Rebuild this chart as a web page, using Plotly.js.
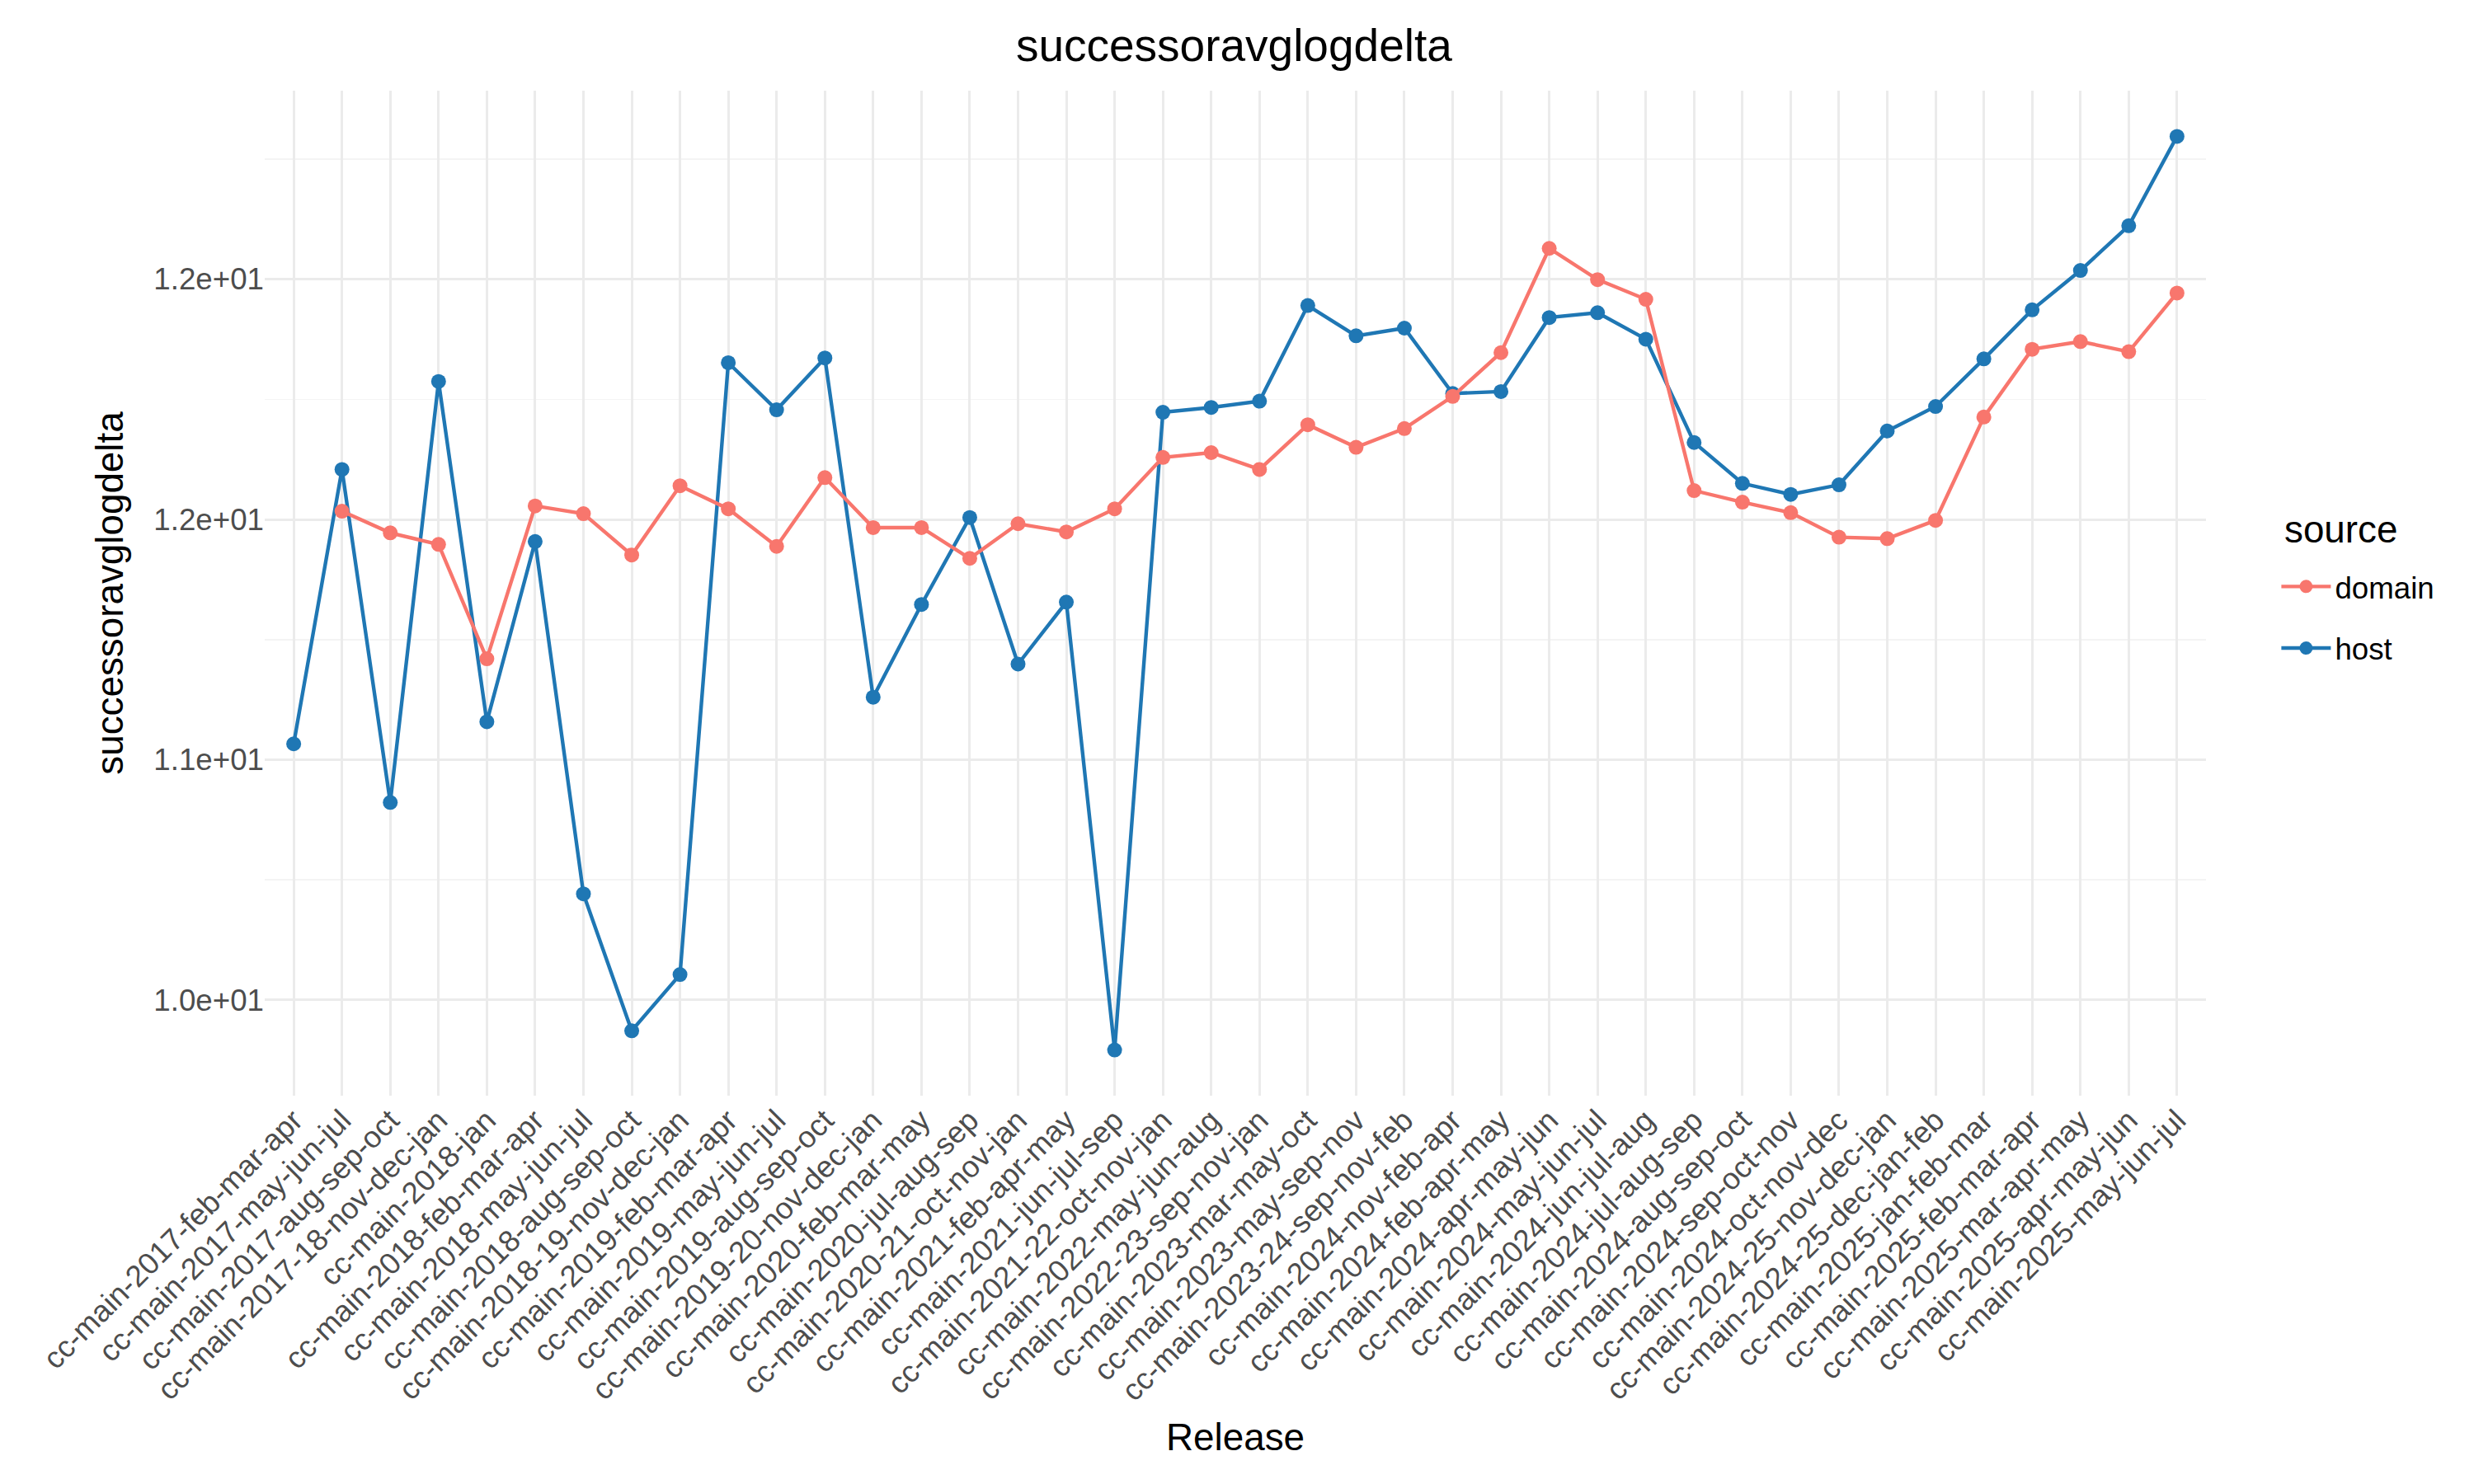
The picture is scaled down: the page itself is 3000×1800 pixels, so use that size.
<!DOCTYPE html>
<html>
<head>
<meta charset="utf-8">
<script src="https://cdn.plot.ly/plotly-3.0.1.min.js"></script>
<style>html,body{margin:0;padding:0;background:#fff;}#chart{width:3000px;height:1800px;}</style>
</head>
<body>
<div id="chart"></div>
<script>
const releases = [
  "cc-main-2017-feb-mar-apr","cc-main-2017-may-jun-jul","cc-main-2017-aug-sep-oct","cc-main-2017-18-nov-dec-jan",
  "cc-main-2018-jan","cc-main-2018-feb-mar-apr","cc-main-2018-may-jun-jul","cc-main-2018-aug-sep-oct",
  "cc-main-2018-19-nov-dec-jan","cc-main-2019-feb-mar-apr","cc-main-2019-may-jun-jul","cc-main-2019-aug-sep-oct",
  "cc-main-2019-20-nov-dec-jan","cc-main-2020-feb-mar-may","cc-main-2020-jul-aug-sep","cc-main-2020-21-oct-nov-jan",
  "cc-main-2021-feb-apr-may","cc-main-2021-jun-jul-sep","cc-main-2021-22-oct-nov-jan","cc-main-2022-may-jun-aug",
  "cc-main-2022-23-sep-nov-jan","cc-main-2023-mar-may-oct","cc-main-2023-may-sep-nov","cc-main-2023-24-sep-nov-feb",
  "cc-main-2024-nov-feb-apr","cc-main-2024-feb-apr-may","cc-main-2024-apr-may-jun","cc-main-2024-may-jun-jul",
  "cc-main-2024-jun-jul-aug","cc-main-2024-jul-aug-sep","cc-main-2024-aug-sep-oct","cc-main-2024-sep-oct-nov",
  "cc-main-2024-oct-nov-dec","cc-main-2024-25-nov-dec-jan","cc-main-2024-25-dec-jan-feb","cc-main-2025-jan-feb-mar",
  "cc-main-2025-feb-mar-apr","cc-main-2025-mar-apr-may","cc-main-2025-apr-may-jun","cc-main-2025-may-jun-jul"
];
const domainValues = [
  null, 11.517, 11.472, 11.448, 11.210, 11.528, 11.512, 11.426, 11.570, 11.522,
  11.444, 11.587, 11.483, 11.483, 11.419, 11.491, 11.474, 11.522, 11.629, 11.639,
  11.604, 11.697, 11.650, 11.689, 11.756, 11.847, 12.064, 11.999, 11.958, 11.560,
  11.536, 11.514, 11.463, 11.460, 11.498, 11.713, 11.854, 11.870, 11.849, 11.971
];
const hostValues = [
  11.033, 11.604, 10.911, 11.787, 11.079, 11.454, 10.721, 10.436, 10.553, 11.826,
  11.728, 11.836, 11.130, 11.323, 11.504, 11.199, 11.328, 10.396, 11.723, 11.733,
  11.746, 11.945, 11.882, 11.898, 11.762, 11.766, 11.920, 11.930, 11.875, 11.660,
  11.575, 11.552, 11.572, 11.684, 11.735, 11.834, 11.936, 12.018, 12.111, 12.297
];
const yTickVals = [10.5, 11.0, 11.5, 12.0];
const yTickText = ["1.0e+01", "1.1e+01", "1.2e+01", "1.2e+01"];
const yMinorVals = [10.25, 10.75, 11.25, 11.75, 12.25];

const allVals = domainValues.concat(hostValues).filter(v => v !== null);
const vmin = Math.min(...allVals), vmax = Math.max(...allVals);
const pad = (vmax - vmin) * 0.05;

const FONT = '"Liberation Sans", Arial, Helvetica, sans-serif';
const DOMAIN_COLOR = '#F8766D';
const HOST_COLOR = '#1F77B4';

const traces = [
  {
    type: 'scatter', mode: 'lines+markers', name: 'host',
    x: releases, y: hostValues,
    line: {color: HOST_COLOR, width: 4.4},
    marker: {color: HOST_COLOR, size: 18},
    legendrank: 2, legendgroup: 'h'
  },
  {
    type: 'scatter', mode: 'lines+markers', name: 'domain',
    x: releases, y: domainValues, connectgaps: false,
    line: {color: DOMAIN_COLOR, width: 4.4},
    marker: {color: DOMAIN_COLOR, size: 18},
    legendrank: 1, legendgroup: 'd'
  }
];

const layout = {
  width: 3000, height: 1800,
  paper_bgcolor: '#ffffff', plot_bgcolor: '#ffffff',
  margin: {l: 321, r: 325, t: 110, b: 471, pad: 0},
  font: {family: FONT, color: '#000000'},
  title: {
    text: 'successoravglogdelta',
    font: {family: FONT, size: 55, color: '#000000'},
    x: 0.4993, xanchor: 'center', xref: 'paper',
    y: 1 - 55/1800, yanchor: 'middle', yref: 'container'
  },
  xaxis: {
    type: 'category',
    range: [-0.6, releases.length - 1 + 0.6],
    tickangle: -45,
    tickfont: {family: FONT, size: 36.7, color: '#4D4D4D'},
    showgrid: true, gridcolor: '#EBEBEB', gridwidth: 3,
    zeroline: false, showline: false, ticks: '',
    title: {text: 'Release', font: {family: FONT, size: 45.8, color: '#000000'}, standoff: 20},
    automargin: false
  },
  yaxis: {
    range: [vmin - pad, vmax + pad],
    tickmode: 'array', tickvals: yTickVals, ticktext: yTickText,
    tickfont: {family: FONT, size: 36.7, color: '#4D4D4D'},
    showgrid: true, gridcolor: '#EBEBEB', gridwidth: 3,
    minor: {tickmode: 'array', tickvals: yMinorVals, showgrid: true, gridcolor: '#F4F4F4', gridwidth: 1.5, ticks: ''},
    zeroline: false, showline: false, ticks: '',
    title: {text: 'successoravglogdelta', font: {family: FONT, size: 45.8, color: '#000000'}, standoff: 22},
    automargin: false
  },
  showlegend: true,
  legend: {
    x: 1.0367, xanchor: 'left', xref: 'paper',
    y: 0.5316, yanchor: 'top', yref: 'paper',
    traceorder: 'grouped', tracegroupgap: 24,
    font: {family: FONT, size: 36.7, color: '#000000'},
    bgcolor: 'rgba(0,0,0,0)', borderwidth: 0,
    itemwidth: 60
  },
  annotations: [{
    text: 'source', showarrow: false,
    xref: 'paper', yref: 'paper', x: 1.0395, y: 0.5628,
    xanchor: 'left', yanchor: 'middle',
    font: {family: FONT, size: 45.8, color: '#000000'}
  }]
};

Plotly.newPlot('chart', traces, layout, {staticPlot: true, displayModeBar: false});
</script>
</body>
</html>
